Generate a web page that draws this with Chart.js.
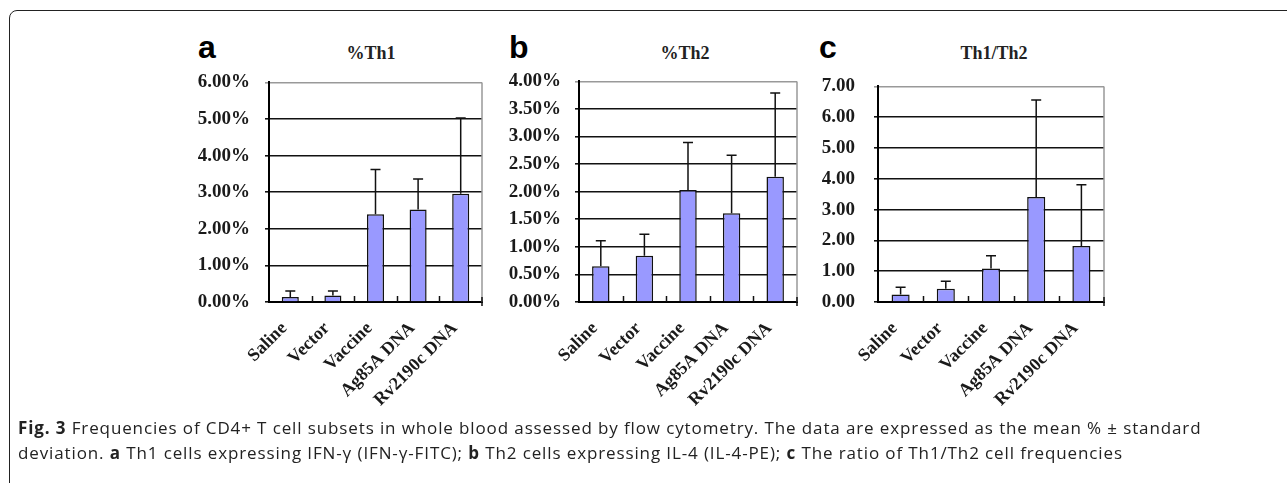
<!DOCTYPE html>
<html lang="en">
<head>
    <meta charset="UTF-8">
    <title>Fig. 3 CD4+ T cell subsets</title>
    <script src="https://cdn.jsdelivr.net/npm/chart.js"></script>
    <style>
        body { margin: 0; background: #fff; width: 1287px; height: 483px; overflow: hidden; position: relative; }
        .frame { position: absolute; left: 9px; top: 10px; width: 1300px; height: 520px; border: 1.5px solid #222; border-radius: 8px; }
        .painel { position: absolute; top: 56px; }
        .letra { position: absolute; font-family: "Liberation Sans", Arial, sans-serif; font-weight: bold; font-size: 32px; line-height: 1; }
        .titulo { position: absolute; top: 43px; font-family: "Liberation Serif", serif; font-weight: bold; font-size: 18px; transform: translateX(-50%); white-space: nowrap; color: #222; }
        .legenda { position: absolute; left: 18px; top: 415px; font-family: "Open Sans", sans-serif; font-size: 17px; letter-spacing: 0.88px; line-height: 25px; color: #222; white-space: nowrap; }
    </style>
</head>
<body>
    <div class="frame"></div>

    <div class="letra" style="left:198px; top:31px;">a</div>
    <div class="letra" style="left:509px; top:31px;">b</div>
    <div class="letra" style="left:819px; top:31px;">c</div>

    <div class="titulo" style="left:371px;">%Th1</div>
    <div class="titulo" style="left:685px;">%Th2</div>
    <div class="titulo" style="left:994px;">Th1/Th2</div>

    <div class="painel" style="left:170px;"><canvas id="graficoA" width="320" height="366"></canvas></div>
    <div class="painel" style="left:490px;"><canvas id="graficoB" width="315" height="366"></canvas></div>
    <div class="painel" style="left:800px;"><canvas id="graficoC" width="312" height="366"></canvas></div>

    <div class="legenda"><b>Fig. 3</b> Frequencies of CD4+ T cell subsets in whole blood assessed by flow cytometry. The data are expressed as the mean % ± standard<br>deviation. <b>a</b> Th1 cells expressing IFN-γ (IFN-γ-FITC); <b>b</b> Th2 cells expressing IL-4 (IL-4-PE); <b>c</b> The ratio of Th1/Th2 cell frequencies</div>

    <script>
        const grupos = ['Saline', 'Vector', 'Vaccine', 'Ag85A DNA', 'Rv2190c DNA'];

        // %Th1 (valores em %)
        const mediaTh1 = [0.14, 0.18, 2.40, 2.53, 2.96];
        const dpTh1 = [0.16, 0.12, 1.22, 0.83, 2.07];
        const ticksTh1 = ['0.00%', '1.00%', '2.00%', '3.00%', '4.00%', '5.00%', '6.00%'];

        // %Th2
        const mediaTh2 = [0.65, 0.84, 2.03, 1.61, 2.27];
        const dpTh2 = [0.46, 0.39, 0.86, 1.05, 1.52];
        const ticksTh2 = ['0.00%', '0.50%', '1.00%', '1.50%', '2.00%', '2.50%', '3.00%', '3.50%', '4.00%'];

        // Th1/Th2
        const mediaRazao = [0.24, 0.43, 1.09, 3.41, 1.82];
        const dpRazao = [0.24, 0.24, 0.41, 3.15, 1.99];
        const ticksRazao = ['0.00', '1.00', '2.00', '3.00', '4.00', '5.00', '6.00', '7.00'];

        // barras de erro + moldura direita + marcas do eixo x
        const pluginExtras = {
            id: 'extras',
            afterDatasetsDraw(chart) {
                const ctx = chart.ctx;
                const area = chart.chartArea;
                const y = chart.scales.y;
                const meta = chart.getDatasetMeta(0);
                const dp = chart.data.datasets[0].erro;
                const dados = chart.data.datasets[0].data;

                ctx.save();
                ctx.strokeStyle = '#999';
                ctx.lineWidth = 1.5;
                ctx.beginPath();
                ctx.moveTo(area.right, area.top);
                ctx.lineTo(area.right, area.bottom);
                ctx.stroke();

                ctx.strokeStyle = '#111';
                ctx.lineWidth = 1.5;
                const largura = (area.right - area.left) / dados.length;
                for (let i = 1; i < dados.length; i++) {
                    const x = Math.round(area.left + i * largura) + 0.5;
                    ctx.beginPath();
                    ctx.moveTo(x, area.bottom);
                    ctx.lineTo(x, area.bottom - 6);
                    ctx.stroke();
                }
                ctx.beginPath();
                ctx.moveTo(area.right, area.bottom - 5);
                ctx.lineTo(area.right, area.bottom + 4);
                ctx.stroke();

                meta.data.forEach((barra, i) => {
                    const topo = y.getPixelForValue(dados[i] + dp[i]);
                    ctx.beginPath();
                    ctx.moveTo(barra.x, barra.y);
                    ctx.lineTo(barra.x, topo);
                    ctx.moveTo(barra.x - 5, topo);
                    ctx.lineTo(barra.x + 5, topo);
                    ctx.stroke();
                });
                ctx.restore();
            }
        };

        function criarGrafico(id, medias, erros, rotulos, maximo, passo, larguraY, padY) {
            return new Chart(document.getElementById(id), {
                type: 'bar',
                data: {
                    labels: grupos,
                    datasets: [{
                        data: medias,
                        erro: erros,
                        backgroundColor: '#9999ff',
                        borderColor: '#111',
                        borderWidth: 1.5,
                        barPercentage: 0.4,
                        categoryPercentage: 1.0
                    }]
                },
                options: {
                    responsive: false,
                    animation: false,
                    layout: { padding: { top: 9, right: 8, left: 0, bottom: 0 } },
                    plugins: { legend: { display: false }, tooltip: { enabled: false } },
                    scales: {
                        x: {
                            grid: { display: false },
                            border: { display: true, color: '#000', width: 2 },
                            ticks: {
                                autoSkip: false,
                                maxRotation: 45,
                                minRotation: 45,
                                padding: 8,
                                labelOffset: -6,
                                color: '#1a1a1a',
                                font: { family: 'Liberation Serif', weight: 'bold', size: 18 }
                            },
                            afterFit: function(scale) { scale.height = 120; }
                        },
                        y: {
                            min: 0,
                            max: maximo,
                            grid: {
                                color: (c) => c.index === rotulos.length - 1 ? '#999' : '#111',
                                lineWidth: 1.6,
                                drawTicks: true,
                                tickLength: 4
                            },
                            border: { display: true, color: '#000', width: 2 },
                            ticks: {
                                stepSize: passo,
                                padding: padY,
                                color: '#1a1a1a',
                                font: { family: 'Liberation Serif', weight: 'bold', size: 19 },
                                callback: (v, i) => rotulos[i]
                            },
                            afterFit: function(scale) { scale.width = larguraY; }
                        }
                    }
                },
                plugins: [pluginExtras]
            });
        }

        criarGrafico('graficoA', mediaTh1, dpTh1, ticksTh1, 6, 1, 99, 15);
        criarGrafico('graficoB', mediaTh2, dpTh2, ticksTh2, 4, 0.5, 89, 14);
        criarGrafico('graficoC', mediaRazao, dpRazao, ticksRazao, 7, 1, 78, 19);
    </script>
</body>
</html>
